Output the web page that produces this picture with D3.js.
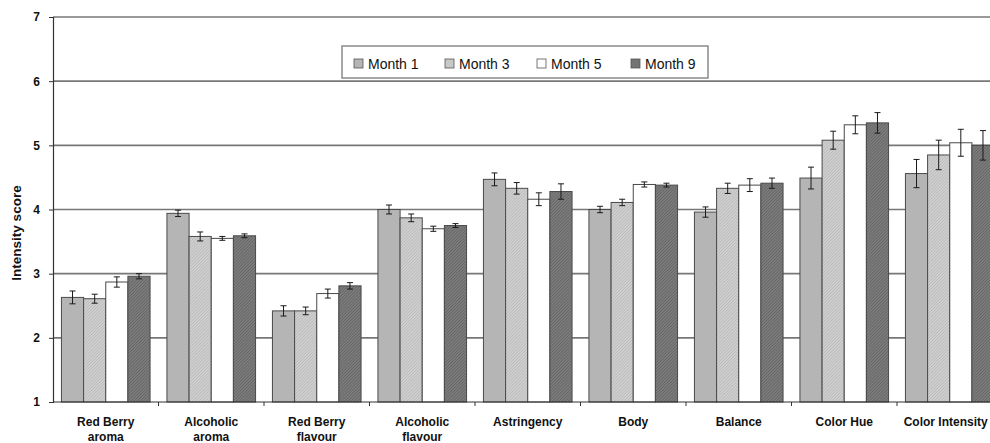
<!DOCTYPE html>
<html>
<head>
<meta charset="utf-8">
<script src="https://cdn.jsdelivr.net/npm/d3@7"></script>
<style>
  html, body { margin: 0; padding: 0; background: #fff; }
  svg { display: block; }
  text { font-family: "Liberation Sans", Arial, sans-serif; }
</style>
</head>
<body>
<svg id="chart" width="990" height="443"></svg>
<script>
// Sensory attributes (two-line labels)
const categories = [
  ["Red Berry", "aroma"],
  ["Alcoholic", "aroma"],
  ["Red Berry", "flavour"],
  ["Alcoholic", "flavour"],
  ["Astringency"],
  ["Body"],
  ["Balance"],
  ["Color Hue"],
  ["Color Intensity"]
];
const seriesNames = ["Month 1", "Month 3", "Month 5", "Month 9"];

// Mean intensity scores per attribute
const month1 = [2.63, 3.94, 2.42, 4.00, 4.47, 4.00, 3.96, 4.49, 4.56];
const month3 = [2.61, 3.58, 2.42, 3.87, 4.33, 4.11, 4.33, 5.08, 4.85];
const month5 = [2.87, 3.55, 2.69, 3.70, 4.16, 4.39, 4.38, 5.32, 5.04];
const month9 = [2.96, 3.59, 2.81, 3.75, 4.28, 4.38, 4.41, 5.35, 5.00];

// Standard errors
const err1 = [0.10, 0.05, 0.08, 0.07, 0.10, 0.05, 0.08, 0.17, 0.22];
const err3 = [0.07, 0.07, 0.06, 0.06, 0.09, 0.05, 0.08, 0.14, 0.23];
const err5 = [0.08, 0.03, 0.07, 0.04, 0.10, 0.04, 0.10, 0.14, 0.21];
const err9 = [0.04, 0.03, 0.05, 0.03, 0.12, 0.03, 0.08, 0.16, 0.23];

const yTicks = [1, 2, 3, 4, 5, 6, 7];

const seriesValues = [month1, month3, month5, month9];
const seriesErrors = [err1, err3, err5, err9];

const svg = d3.select("#chart");
const defs = svg.append("defs");

// Textured fills
function hatch(id, base, line, spacing, width) {
  const p = defs.append("pattern")
    .attr("id", id)
    .attr("patternUnits", "userSpaceOnUse")
    .attr("width", spacing).attr("height", spacing)
    .attr("patternTransform", "rotate(45)");
  p.append("rect").attr("width", spacing).attr("height", spacing).attr("fill", base);
  p.append("line").attr("x1", 0).attr("y1", 0).attr("x2", 0).attr("y2", spacing)
    .attr("stroke", line).attr("stroke-width", width);
}
hatch("pat3", "#cfcfcf", "#adadad", 2.2, 0.9);
hatch("pat9", "#7c7c7c", "#555555", 2.2, 0.9);

const fills = ["#b5b5b5", "url(#pat3)", "#ffffff", "url(#pat9)"];

const plotLeft = 53, plotBottom = 402, plotTop = 17;
const step = 105.5;
const x0 = d3.scaleBand()
  .domain(d3.range(categories.length))
  .range([plotLeft, plotLeft + step * categories.length])
  .paddingInner(0.16)
  .paddingOuter(0.08);
const x1 = d3.scaleBand()
  .domain(d3.range(seriesNames.length))
  .range([0, x0.bandwidth()]);
const y = d3.scaleLinear().domain([1, 7]).range([plotBottom, plotTop]);

// Horizontal gridlines
svg.append("g")
  .selectAll("line")
  .data(yTicks.filter(t => t > 1))
  .join("line")
  .attr("x1", plotLeft).attr("x2", 990)
  .attr("y1", d => y(d)).attr("y2", d => y(d))
  .attr("stroke", "#777").attr("stroke-width", 1.6);

// Bars
const groups = svg.append("g")
  .selectAll("g")
  .data(categories.map((c, i) => i))
  .join("g")
  .attr("transform", i => `translate(${x0(i)},0)`);

groups.selectAll("rect")
  .data(i => seriesValues.map((vals, s) => ({ s, v: vals[i], e: seriesErrors[s][i] })))
  .join("rect")
  .attr("x", d => x1(d.s))
  .attr("y", d => y(d.v))
  .attr("width", x1.bandwidth())
  .attr("height", d => y(1) - y(d.v))
  .attr("fill", d => fills[d.s])
  .attr("stroke", "#4a4a4a")
  .attr("stroke-width", 1);

// Error bars
const eb = groups.selectAll("g.err")
  .data(i => seriesValues.map((vals, s) => ({ s, v: vals[i], e: seriesErrors[s][i] })))
  .join("g").attr("class", "err")
  .attr("stroke", "#1a1a1a").attr("stroke-width", 1);
eb.append("line")
  .attr("x1", d => x1(d.s) + x1.bandwidth() / 2)
  .attr("x2", d => x1(d.s) + x1.bandwidth() / 2)
  .attr("y1", d => y(d.v + d.e)).attr("y2", d => y(d.v - d.e));
eb.append("line")
  .attr("x1", d => x1(d.s) + x1.bandwidth() / 2 - 3)
  .attr("x2", d => x1(d.s) + x1.bandwidth() / 2 + 3)
  .attr("y1", d => y(d.v + d.e)).attr("y2", d => y(d.v + d.e));
eb.append("line")
  .attr("x1", d => x1(d.s) + x1.bandwidth() / 2 - 3)
  .attr("x2", d => x1(d.s) + x1.bandwidth() / 2 + 3)
  .attr("y1", d => y(d.v - d.e)).attr("y2", d => y(d.v - d.e));

// Y axis
const yAxis = svg.append("g")
  .attr("transform", `translate(${plotLeft},0)`)
  .call(d3.axisLeft(y).tickValues(yTicks).tickFormat(d3.format("d")).tickSizeOuter(0).tickSize(4).tickPadding(9));
yAxis.select(".domain").attr("stroke", "#333").attr("stroke-width", 1.2);
yAxis.selectAll(".tick line").attr("stroke", "#333");
yAxis.selectAll(".tick text")
  .attr("font-size", 12).attr("font-weight", "bold").attr("fill", "#111")
  .attr("font-family", "'Liberation Sans', Arial, sans-serif");

// X axis line with boundary ticks
svg.append("line")
  .attr("x1", plotLeft).attr("x2", 990)
  .attr("y1", plotBottom).attr("y2", plotBottom)
  .attr("stroke", "#333").attr("stroke-width", 1.2);
svg.append("g")
  .selectAll("line")
  .data(d3.range(1, categories.length + 1))
  .join("line")
  .attr("x1", i => x0(i - 1) + x0.bandwidth() + x0.step() * x0.paddingInner() / 2)
  .attr("x2", i => x0(i - 1) + x0.bandwidth() + x0.step() * x0.paddingInner() / 2)
  .attr("y1", plotBottom).attr("y2", plotBottom + 4)
  .attr("stroke", "#333");

// Category labels
const labels = svg.append("g")
  .selectAll("text")
  .data(categories.map((c, i) => ({ c, i })))
  .join("text")
  .attr("text-anchor", "middle")
  .attr("font-size", 12).attr("font-weight", "bold").attr("fill", "#111")
  .attr("x", d => x0(d.i) + x0.bandwidth() / 2)
  .attr("y", 426);
labels.selectAll("tspan")
  .data(d => d.c.map((t, k) => ({ t, k, x: x0(d.i) + x0.bandwidth() / 2 })))
  .join("tspan")
  .attr("x", d => d.x)
  .attr("dy", d => d.k === 0 ? 0 : 15)
  .text(d => d.t);
// Keep labels inside the right edge
labels.each(function () {
  const b = this.getBBox();
  const over = b.x + b.width - 988;
  if (over > 0) d3.select(this).attr("transform", `translate(${-over},0)`);
});

// Y axis title
svg.append("text")
  .attr("transform", "translate(21,233) rotate(-90)")
  .attr("text-anchor", "middle")
  .attr("font-size", 13.5).attr("font-weight", "bold").attr("fill", "#111")
  .text("Intensity score");

// Legend
const legend = svg.append("g");
legend.append("rect")
  .attr("x", 342).attr("y", 46).attr("width", 366).attr("height", 32)
  .attr("fill", "#fff").attr("stroke", "#8a8a8a").attr("stroke-width", 1.5);
const legendX = [354, 445, 537, 631];
const li = legend.selectAll("g.item")
  .data(seriesNames.map((n, s) => ({ n, s })))
  .join("g").attr("class", "item");
li.append("rect")
  .attr("x", d => legendX[d.s]).attr("y", 59)
  .attr("width", 9).attr("height", 9)
  .attr("fill", d => fills[d.s]).attr("stroke", "#555").attr("stroke-width", 0.8);
li.append("text")
  .attr("x", d => legendX[d.s] + 14).attr("y", 68.5)
  .attr("font-size", 14).attr("fill", "#111")
  .text(d => d.n);
</script>
</body>
</html>
